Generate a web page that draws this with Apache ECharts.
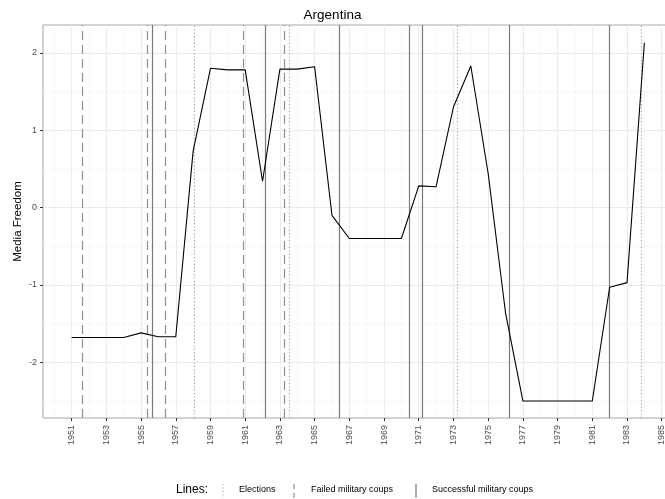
<!DOCTYPE html>
<html>
<head>
<meta charset="utf-8">
<script src="https://cdn.jsdelivr.net/npm/echarts@6/dist/echarts.min.js"></script>
<style>html,body{margin:0;padding:0;background:#fff;}#c{width:665px;height:499px;}</style>
</head>
<body>
<div id="c"></div>
<script>
const years = [1951,1952,1953,1954,1955,1956,1957,1958,1959,1960,1961,1962,1963,1964,1965,1966,1967,1968,1969,1970,1971,1972,1973,1974,1975,1976,1977,1978,1979,1980,1981,1982,1983,1984];
const mediaFreedom = [-1.68,-1.68,-1.68,-1.68,-1.62,-1.67,-1.67,0.73,1.80,1.78,1.78,0.34,1.79,1.79,1.82,-0.10,-0.40,-0.40,-0.40,-0.40,0.28,0.27,1.30,1.83,0.44,-1.36,-2.50,-2.50,-2.50,-2.50,-2.50,-1.03,-0.97,2.13];
const elections = [1958.07, 1963.51, 1973.19, 1983.82];
const failedCoups = [1951.63, 1955.38, 1956.42, 1960.86, 1963.25];
const successfulCoups = [1955.67, 1962.18, 1966.42, 1970.44, 1971.19, 1976.22, 1981.99];
const xTickLabels = [1951,1953,1955,1957,1959,1961,1963,1965,1967,1969,1971,1973,1975,1977,1979,1981,1983,1985];
const xMinorGrid = [1950,1952,1954,1956,1958,1960,1962,1964,1966,1968,1970,1972,1974,1976,1978,1980,1982,1984];
const yTickLabels = [-2,-1,0,1,2];
const yMinorGrid = [-2.5,-1.5,-0.5,0.5,1.5];

const FONT = '"Liberation Sans", Arial, Helvetica, sans-serif';
const chart = echarts.init(document.getElementById('c'), null, {renderer: 'canvas'});

function vLines(vals, style) {
  return vals.map(v => ({xAxis: v, lineStyle: style}));
}
function hLines(vals, style) {
  return vals.map(v => ({yAxis: v, lineStyle: style}));
}
const majorGrid = {color: '#ebebeb', width: 1.1, type: 'solid'};
const minorGrid = {color: '#f4f4f4', width: 0.6, type: 'solid'};

const option = {
  animation: false,
  backgroundColor: '#ffffff',
  title: {
    text: 'Argentina', left: 'center', top: 3,
    textStyle: {fontFamily: FONT, fontSize: 13.5, fontWeight: 'normal', color: '#000'}
  },
  grid: {left: 43, top: 25, width: 630, height: 393, outerBoundsMode: 'none', containLabel: false, show: true, borderColor: '#a6a6a6', borderWidth: 1, backgroundColor: 'transparent'},
  xAxis: {
    type: 'value', min: 1949.35, max: 1985.65,
    axisLine: {show: false, onZero: false},
    splitLine: {show: false},
    axisTick: {show: true, length: 3, customValues: xTickLabels, lineStyle: {color: '#333', width: 1}},
    axisLabel: {customValues: xTickLabels, rotate: 90, margin: 7, color: '#4d4d4d', fontSize: 9, fontFamily: FONT, formatter: v => String(v), hideOverlap: false}
  },
  yAxis: {
    type: 'value', min: -2.72, max: 2.36,
    name: 'Media Freedom', nameLocation: 'middle', nameRotate: 90, nameGap: 19.5, nameMoveOverlap: false,
    nameTextStyle: {fontFamily: FONT, fontSize: 11.5, color: '#000'},
    axisLine: {show: false, onZero: false},
    splitLine: {show: false},
    axisTick: {show: true, length: 3, customValues: yTickLabels, lineStyle: {color: '#333', width: 1}},
    axisLabel: {customValues: yTickLabels, margin: 6, color: '#4d4d4d', fontSize: 9, fontFamily: FONT, formatter: v => String(v)}
  },
  series: [
    {
      type: 'line', data: [], silent: true, z: 0,
      markLine: {z: 0, silent: true, symbol: 'none', label: {show: false}, animation: false,
        data: [].concat(vLines(xMinorGrid, minorGrid), hLines(yMinorGrid, minorGrid), vLines(xTickLabels, majorGrid), hLines(yTickLabels, majorGrid))}
    },
    {
      type: 'line', data: [], silent: true, z: 1,
      markLine: {z: 1, silent: true, symbol: 'none', label: {show: false}, animation: false,
        data: vLines(elections, {color: '#a0a0a0', width: 1.1, type: [1.2, 2.2]})}
    },
    {
      type: 'line', data: [], silent: true, z: 1,
      markLine: {z: 1, silent: true, symbol: 'none', label: {show: false}, animation: false,
        data: vLines(failedCoups, {color: '#8f8f8f', width: 1.2, type: [9, 5]})}
    },
    {
      type: 'line', data: [], silent: true, z: 1,
      markLine: {z: 1, silent: true, symbol: 'none', label: {show: false}, animation: false,
        data: vLines(successfulCoups, {color: '#7a7a7a', width: 1.2, type: 'solid'})}
    },
    {
      type: 'line', z: 10, symbol: 'none',
      data: years.map((y, i) => [y, mediaFreedom[i]]),
      lineStyle: {color: '#000', width: 1.1}
    }
  ],
  graphic: [
    {type: 'text', left: 176, top: 484, style: {text: 'Lines:', font: '12px ' + FONT, fill: '#000'}},
    {type: 'line', shape: {x1: 223, y1: 484, x2: 223, y2: 498}, style: {stroke: '#a0a0a0', lineWidth: 1, lineDash: [1.2, 2.2]}},
    {type: 'text', left: 239, top: 485, style: {text: 'Elections', font: '9px ' + FONT, fill: '#000'}},
    {type: 'line', shape: {x1: 294, y1: 484, x2: 294, y2: 498}, style: {stroke: '#8f8f8f', lineWidth: 1.2, lineDash: [5, 4]}},
    {type: 'text', left: 311, top: 485, style: {text: 'Failed military coups', font: '9px ' + FONT, fill: '#000'}},
    {type: 'line', shape: {x1: 416, y1: 484, x2: 416, y2: 498}, style: {stroke: '#7a7a7a', lineWidth: 1.2}},
    {type: 'text', left: 432, top: 485, style: {text: 'Successful military coups', font: '9px ' + FONT, fill: '#000'}}
  ]
};
chart.setOption(option);
</script>
</body>
</html>
